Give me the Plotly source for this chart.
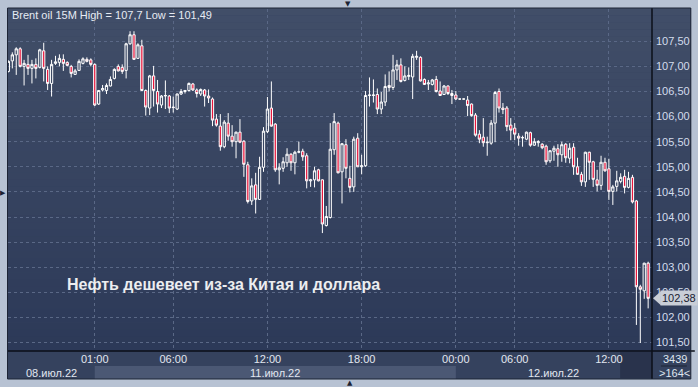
import plotly.graph_objects as go

# ---------------- data (Brent oil, 15-minute candles) ----------------
open_ = [106.90,107.11,107.23,107.35,107.00,107.04,106.96,107.04,106.98,107.31,
         106.94,106.66,107.06,107.08,107.14,107.08,107.00,106.84,106.92,107.06,
         107.14,107.13,107.04,106.25,106.53,106.52,106.61,106.76,107.00,106.98,
         106.92,107.45,107.63,107.16,107.41,106.52,106.17,106.81,106.50,106.23,
         106.41,106.41,106.19,106.15,106.45,106.50,106.52,106.65,106.53,106.45,
         106.53,106.41,106.35,105.95,105.81,105.40,105.87,105.61,105.50,105.69,
         105.51,105.04,104.32,104.64,104.35,104.99,105.70,106.17,105.85,104.94,
         104.97,105.08,105.25,105.08,105.29,105.31,105.22,104.72,104.74,104.94,
         104.74,103.83,103.99,105.34,105.87,104.90,105.44,104.77,104.60,105.57,
         105.00,105.02,106.42,106.42,106.44,106.15,106.29,106.62,106.58,106.93,
         107.03,106.72,106.80,106.79,107.18,107.18,106.74,106.65,106.64,106.74,
         106.51,106.44,106.61,106.46,106.43,106.35,106.35,106.33,106.25,106.03,
         105.65,105.59,105.48,105.47,105.87,106.50,106.17,106.17,105.83,105.77,
         105.61,105.58,105.55,105.68,105.43,105.48,105.45,105.41,105.12,105.31,
         105.36,105.24,105.45,105.17,105.39,105.00,104.85,104.70,105.29,105.10,
         104.74,104.63,105.09,104.96,104.51,104.61,104.71,104.81,104.59,104.79,
         104.32,102.61,102.53,103.08]
high = [107.12,107.28,107.38,107.38,107.13,107.23,107.13,107.16,107.35,107.47,
        107.00,107.13,107.21,107.24,107.24,107.10,107.03,106.95,107.14,107.18,
        107.18,107.16,107.06,106.53,106.63,106.66,106.80,106.96,107.04,107.04,
        107.47,107.70,107.70,107.46,107.53,106.54,106.83,107.01,106.73,106.43,
        106.72,106.43,106.40,106.46,106.55,106.53,106.68,106.67,106.56,106.56,
        106.55,106.54,106.38,106.05,106.05,105.93,106.07,105.83,105.70,105.95,
        105.53,105.10,104.77,104.88,105.20,105.79,106.39,106.70,105.87,105.07,
        105.19,105.37,105.27,105.32,105.50,105.36,105.27,104.76,105.00,104.96,
        104.75,104.22,105.87,106.07,105.90,105.47,105.55,105.02,105.60,105.67,
        105.24,106.51,106.78,106.74,106.56,106.49,106.84,106.90,107.23,107.13,
        107.16,107.00,106.98,107.25,107.31,107.20,106.76,106.73,106.75,106.81,
        106.70,106.63,106.62,106.53,106.51,106.35,106.35,106.41,106.26,106.07,
        105.73,105.97,105.60,105.93,106.51,106.56,106.27,106.21,105.97,105.87,
        105.67,105.62,105.70,105.70,105.57,105.53,105.47,105.44,105.33,105.42,
        105.45,105.50,105.47,105.47,105.47,105.18,104.90,105.30,105.30,105.12,
        104.94,105.22,105.18,105.16,104.64,104.92,104.87,104.94,104.90,104.84,
        104.34,102.65,103.09,103.11]
low = [106.88,106.96,106.83,106.98,106.62,106.83,106.66,106.76,106.96,106.70,
       106.53,106.40,107.03,107.00,106.91,107.00,106.78,106.83,106.91,107.04,
       107.08,107.00,106.21,106.23,106.50,106.45,106.60,106.74,106.90,106.85,
       106.76,107.43,107.13,107.15,106.52,106.02,106.03,106.20,106.08,106.17,
       106.15,106.07,106.08,106.13,106.43,106.46,106.50,106.51,106.38,106.41,
       106.20,106.27,105.81,105.80,105.32,105.37,105.52,105.40,105.17,105.47,
       104.80,104.27,104.24,104.07,104.34,104.90,105.67,105.80,104.90,104.65,
       104.90,105.00,104.92,104.85,105.27,105.12,104.57,104.60,104.59,104.71,
       103.68,103.81,103.97,105.24,104.87,104.27,104.77,104.49,104.50,105.00,
       104.85,105.00,106.20,106.28,106.05,106.05,106.21,106.50,106.53,106.73,
       106.68,106.70,106.73,106.35,107.13,106.70,106.63,106.53,106.62,106.48,
       106.41,106.43,106.43,106.25,106.33,106.34,106.35,106.01,106.00,105.60,
       105.47,105.40,105.22,105.44,105.49,106.08,106.05,105.71,105.53,105.53,
       105.42,105.40,105.53,105.40,105.42,105.40,105.35,105.04,105.08,105.12,
       105.00,105.10,105.08,105.07,104.84,104.84,104.62,104.60,104.74,104.60,
       104.51,104.54,104.90,104.34,104.24,104.51,104.67,104.47,104.57,104.27,
       101.85,101.49,102.37,102.18]
close = [107.10,107.23,107.35,107.00,107.06,106.96,107.04,106.96,107.33,106.96,
         106.66,107.04,107.09,107.16,107.06,107.02,106.86,106.91,107.10,107.15,
         107.10,107.04,106.23,106.52,106.56,106.62,106.74,106.94,106.91,106.90,
         107.45,107.63,107.14,107.43,106.52,106.19,106.81,106.52,106.25,106.41,
         106.42,106.17,106.18,106.45,106.50,106.52,106.66,106.53,106.46,106.54,
         106.41,106.37,105.93,105.83,105.40,105.89,105.61,105.50,105.69,105.49,
         105.05,104.31,104.62,104.35,104.99,105.71,106.15,105.81,104.94,104.98,
         105.10,105.25,105.08,105.29,105.30,105.20,104.72,104.74,104.92,104.72,
         103.86,104.01,105.35,105.90,104.88,105.46,104.97,104.59,105.55,105.00,
         105.02,106.42,106.43,106.43,106.15,106.29,106.60,106.58,106.93,107.03,
         106.70,106.81,106.82,107.20,107.20,106.71,106.64,106.67,106.73,106.50,
         106.42,106.61,106.46,106.42,106.35,106.35,106.35,106.22,106.02,105.63,
         105.55,105.48,105.49,105.87,106.48,106.17,106.14,105.80,105.73,105.65,
         105.57,105.58,105.69,105.43,105.50,105.50,105.38,105.10,105.32,105.37,
         105.24,105.44,105.18,105.37,105.00,104.85,104.70,105.29,105.09,104.75,
         104.63,105.09,104.92,104.51,104.60,104.72,104.79,104.59,104.77,104.30,
         102.61,102.56,103.08,102.38]

candle_index = list(range(len(close)))

time_tick_pos = [22, 42, 66, 90, 114, 129, 153]
time_tick_text = ["01:00", "06:00", "12:00", "18:00", "00:00", "06:00", "12:00"]
day_labels = ["08.июл.22", "11.июл.22", "12.июл.22"]
day_bounds = [-0.1, 22, 114, 163.98]

price_ticks = [101.5, 102.0, 102.5, 103.0, 103.5, 104.0, 104.5,
               105.0, 105.5, 106.0, 106.5, 107.0, 107.5]

title_text = "Brent oil 15M High = 107,7 Low = 101,49"
headline = "Нефть дешевеет из-за Китая и доллара"
corner_top = "3439"
corner_bottom = ">164<"

# ---------------- styling ----------------
FONT = "Liberation Sans, Arial, sans-serif"
FRAME = "#b7c2d3"
PANEL = "#35425e"
GRID = "#5a6886"
RED = "#e8163c"
W, H = 698, 387
ML, MR, MT, MB = 8, 43, 9, 36
PW, PH = W - ML - MR, H - MT - MB


def px2paper_x(px):
    return (px - ML) / PW


def px2paper_y(py):
    return (H - MB - py) / PH


fig = go.Figure()
fig.add_trace(go.Candlestick(
    x=candle_index, open=open_, high=high, low=low, close=close,
    increasing=dict(line=dict(color="white", width=1), fillcolor="rgba(0,0,0,0)"),
    decreasing=dict(line=dict(color="white", width=1), fillcolor=RED),
    whiskerwidth=0, hoverinfo="skip", showlegend=False,
))

shapes = []
# dark chart body
shapes.append(dict(type="rect", xref="paper", yref="paper", layer="below",
                   x0=px2paper_x(8), x1=px2paper_x(694), y0=px2paper_y(379), y1=px2paper_y(8),
                   fillcolor=PANEL, line=dict(width=0)))
# vertical gradient of the price area (incl. right scale)
top_c = (65, 78, 104)
bot_c = (44, 57, 88)
N = 48
y_top, y_bot = px2paper_y(8), 0.0
for k in range(N):
    t = (k + 0.5) / N
    c = tuple(round(top_c[j] + (bot_c[j] - top_c[j]) * t) for j in range(3))
    y1 = y_top - (y_top - y_bot) * k / N
    y0 = y_top - (y_top - y_bot) * (k + 1) / N
    shapes.append(dict(type="rect", xref="paper", yref="paper", layer="below",
                       x0=px2paper_x(8), x1=px2paper_x(694), y0=y0 - 0.0005, y1=y1,
                       fillcolor="rgb(%d,%d,%d)" % c, line=dict(width=0)))
# date band (lighter middle day)
shapes.append(dict(type="rect", xref="x", yref="paper", layer="below",
                   x0=day_bounds[1], x1=day_bounds[2], y0=px2paper_y(379), y1=px2paper_y(366),
                   fillcolor="#4b5874", line=dict(width=0)))
# scroll block at bottom right of time axis
shapes.append(dict(type="rect", xref="paper", yref="paper", layer="below",
                   x0=px2paper_x(623), x1=1.0, y0=px2paper_y(378), y1=px2paper_y(352),
                   fillcolor="#29334c", line=dict(width=0)))
# black axis lines
shapes.append(dict(type="line", xref="paper", yref="paper", layer="above",
                   x0=0, x1=px2paper_x(698), y0=0, y1=0, line=dict(color="#0b0f18", width=1.5)))
shapes.append(dict(type="line", xref="paper", yref="paper", layer="above",
                   x0=1, x1=1, y0=px2paper_y(379), y1=px2paper_y(8), line=dict(color="#0b0f18", width=1.5)))
# outline of the chart body
shapes.append(dict(type="rect", xref="paper", yref="paper", layer="above",
                   x0=px2paper_x(7.5), x1=px2paper_x(694), y0=px2paper_y(379), y1=px2paper_y(8),
                   line=dict(color="#1d2435", width=1), fillcolor="rgba(0,0,0,0)"))
# corner separator line
shapes.append(dict(type="line", xref="paper", yref="paper", layer="above",
                   x0=px2paper_x(664), x1=px2paper_x(690), y0=px2paper_y(366), y1=px2paper_y(366),
                   line=dict(color="#1d2435", width=1)))
# last-price marker arrow
last = close[-1]
dy = 0.14
shapes.append(dict(type="path", xref="paper", yref="y", layer="above",
                   path="M %f,%f L %f,%f L %f,%f Z" % (px2paper_x(656), last, px2paper_x(664), last + dy,
                                                       px2paper_x(664), last - dy),
                   fillcolor="#c9ced7", line=dict(width=0)))

annotations = []
annotations.append(dict(xref="paper", yref="paper", x=px2paper_x(10), y=px2paper_y(15),
                        text=title_text, showarrow=False, xanchor="left", yanchor="middle",
                        font=dict(family=FONT, size=11, color="#e6ebf3")))
annotations.append(dict(xref="paper", yref="paper", x=px2paper_x(65), y=px2paper_y(284),
                        text="<b>" + headline + "</b>", showarrow=False, xanchor="left", yanchor="middle",
                        font=dict(family=FONT, size=16, color="#ecedf0")))
for k, lab in enumerate(day_labels):
    annotations.append(dict(xref="x", yref="paper", x=(day_bounds[k] + day_bounds[k + 1]) / 2,
                            y=px2paper_y(372.5), text=lab, showarrow=False,
                            xanchor="center", yanchor="middle",
                            font=dict(family=FONT, size=11, color="#e2e7f0")))
annotations.append(dict(xref="paper", yref="paper", x=px2paper_x(678), y=px2paper_y(359),
                        text=corner_top, showarrow=False, xanchor="center", yanchor="middle",
                        font=dict(family=FONT, size=11, color="#dfe5ef")))
annotations.append(dict(xref="paper", yref="paper", x=px2paper_x(678), y=px2paper_y(373),
                        text=corner_bottom, showarrow=False, xanchor="center", yanchor="middle",
                        font=dict(family=FONT, size=11, color="#dfe5ef")))
annotations.append(dict(xref="paper", yref="y", x=px2paper_x(663), y=last,
                        text=("%.2f" % last).replace(".", ","), showarrow=False,
                        xanchor="left", yanchor="middle", bgcolor="#c9ced7", borderpad=1,
                        font=dict(family=FONT, size=11, color="#1a2132")))
for (x, y, s) in [(350, 4, "▼"), (352, 383, "▲"), (3, 193, "▶")]:
    annotations.append(dict(xref="paper", yref="paper", x=px2paper_x(x), y=px2paper_y(y),
                            text=s, showarrow=False, xanchor="center", yanchor="middle",
                            font=dict(family="DejaVu Sans", size=7, color="#1c2232")))

fig.update_layout(
    width=W, height=H,
    margin=dict(l=ML, r=MR, t=MT, b=MB, pad=0),
    paper_bgcolor=FRAME, plot_bgcolor="rgba(0,0,0,0)",
    separators=", ",
    boxgap=0.18,
    showlegend=False, hovermode=False, dragmode=False,
    shapes=shapes, annotations=annotations,
    font=dict(family=FONT, size=11),
    xaxis=dict(type="linear", range=[day_bounds[0], day_bounds[-1]],
               rangeslider=dict(visible=False),
               tickmode="array", tickvals=time_tick_pos, ticktext=time_tick_text,
               showgrid=True, gridcolor=GRID, griddash="3px,3px", gridwidth=1,
               zeroline=False, showline=False, ticks="",
               tickfont=dict(family=FONT, size=11, color="#e2e7f0")),
    yaxis=dict(side="right", range=[101.331, 108.143], tickmode="array",
               tickvals=price_ticks, tickformat=".2f",
               showgrid=True, gridcolor=GRID, griddash="3px,3px", gridwidth=1,
               zeroline=False, showline=False, ticks="", ticklabelstandoff=3,
               tickfont=dict(family=FONT, size=11, color="#d3dcec")),
)

fig.write_html("out.html", config=dict(displayModeBar=False, staticPlot=True))
